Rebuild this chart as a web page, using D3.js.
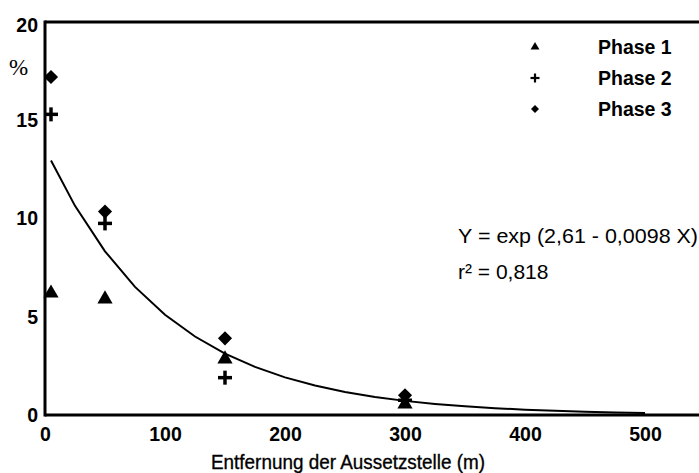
<!DOCTYPE html>
<html>
<head>
<meta charset="utf-8">
<script src="https://cdn.jsdelivr.net/npm/d3@7"></script>
<style>
  html, body { margin: 0; padding: 0; background: #fff; }
  svg { display: block; }
  text { font-family: "Liberation Sans", Arial, sans-serif; fill: #000; }
</style>
</head>
<body>
<svg id="chart" width="699" height="473"></svg>
<script>
// ---- data ----
const distances = [5, 50, 150, 300];
const phase1 = [6.2, 5.9, 2.85, 0.55];
const phase2 = [15.3, 9.75, 1.9, 0.75];
const phase3 = [17.2, 10.35, 3.9, 1.0];
const seriesNames = ["Phase 1", "Phase 2", "Phase 3"];
const xTicks = [0, 100, 200, 300, 400, 500];
const yTicks = [0, 5, 10, 15, 20];
// fitted curve Y = exp(a - b X), as printed on the chart
const fitA = 2.61, fitB = 0.0098;
const fitX = [5, 25, 50, 75, 100, 125, 150, 175, 200, 225, 250, 275, 300, 325, 350, 375, 400, 425, 450, 475, 500];
const equationText = "Y = exp (2,61 - 0,0098 X)";
const r2Text = "r² = 0,818";
const xTitle = "Entfernung der Aussetzstelle (m)";
const yUnit = "%";

// ---- layout ----
const svg = d3.select("#chart");
const W = 699, H = 473;
const mLeft = 45, mTop = 22, mBottom = 415;
const x = d3.scaleLinear().domain([0, 500]).range([mLeft, 645]);
const y = d3.scaleLinear().domain([0, 20]).range([mBottom, mTop]);

// axes (no tick marks)
const xAxis = d3.axisBottom(x).tickValues(xTicks).tickSize(0).tickPadding(12);
const gx = svg.append("g").attr("transform", `translate(0,${mBottom})`).call(xAxis);
gx.select(".domain").remove();
gx.selectAll("text").attr("font-size", 19.5).attr("font-weight", "bold")
  .attr("font-family", '"Liberation Sans", Arial, sans-serif').attr("fill", "#000");

const yAxis = d3.axisLeft(y).tickValues(yTicks).tickSize(0).tickPadding(7);
const gy = svg.append("g").attr("transform", `translate(${mLeft},0)`).call(yAxis);
gy.select(".domain").remove();
gy.selectAll("text").attr("font-size", 19.5).attr("font-weight", "bold")
  .attr("font-family", '"Liberation Sans", Arial, sans-serif').attr("fill", "#000")
  .attr("dy", d => d === 20 ? "0.5em" : "0.32em");

// frame lines
svg.append("line").attr("x1", mLeft).attr("x2", W).attr("y1", y(0)).attr("y2", y(0))
  .attr("stroke", "#000").attr("stroke-width", 3);
svg.append("line").attr("x1", mLeft).attr("x2", W).attr("y1", y(20)).attr("y2", y(20))
  .attr("stroke", "#000").attr("stroke-width", 3);
svg.append("line").attr("x1", mLeft).attr("x2", mLeft).attr("y1", y(20) - 1.5).attr("y2", y(0) + 1.5)
  .attr("stroke", "#000").attr("stroke-width", 3);

// fit curve
const line = d3.line().x(d => x(d)).y(d => y(Math.exp(fitA - fitB * d)));
svg.append("path").datum(fitX).attr("d", line)
  .attr("fill", "none").attr("stroke", "#000").attr("stroke-width", 2);

// markers
const tri = s => d3.symbol().type(d3.symbolTriangle).size(s)();
const dia = s => d3.symbol().type(d3.symbolSquare).size(s)();
function plus(g, cx, cy, half, sw) {
  g.append("line").attr("x1", cx - half).attr("x2", cx + half).attr("y1", cy).attr("y2", cy)
    .attr("stroke", "#000").attr("stroke-width", sw);
  g.append("line").attr("x1", cx).attr("x2", cx).attr("y1", cy - half).attr("y2", cy + half)
    .attr("stroke", "#000").attr("stroke-width", sw);
}
const pts = svg.append("g");
distances.forEach((d, i) => {
  pts.append("path").attr("d", dia(100))
    .attr("transform", `translate(${x(d)},${y(phase3[i])}) rotate(45)`).attr("fill", "#000");
  plus(pts, x(d), y(phase2[i]), 7, 3.5);
  pts.append("path").attr("d", tri(100))
    .attr("transform", `translate(${x(d)},${y(phase1[i])})`).attr("fill", "#000");
});

// legend
const legX = 535, legTextX = 598, legY = [47, 78, 109];
const lg = svg.append("g");
lg.append("path").attr("d", tri(34)).attr("transform", `translate(${legX},${legY[0]})`).attr("fill", "#000");
plus(lg, legX, legY[1], 4.5, 2.2);
lg.append("path").attr("d", dia(32)).attr("transform", `translate(${legX},${legY[2]}) rotate(45)`).attr("fill", "#000");
seriesNames.forEach((n, i) => {
  lg.append("text").attr("x", legTextX).attr("y", legY[i]).attr("dy", "0.35em")
    .attr("font-size", 19.5).attr("font-weight", "bold").text(n);
});

// equation
svg.append("text").attr("x", 458).attr("y", 243).attr("font-size", 21)
  .attr("textLength", 240).attr("lengthAdjust", "spacingAndGlyphs").text(equationText);
svg.append("text").attr("x", 458).attr("y", 279).attr("font-size", 21).text(r2Text);

// axis titles
svg.append("text").attr("x", 211).attr("y", 469)
  .attr("font-size", 21).attr("textLength", 274).attr("lengthAdjust", "spacingAndGlyphs")
  .attr("stroke", "#000").attr("stroke-width", 0.35).text(xTitle);
svg.append("text").attr("x", 9).attr("y", 75)
  .style("font-family", '"Liberation Serif", "Times New Roman", serif')
  .attr("font-size", 23).text(yUnit);
</script>
</body>
</html>
